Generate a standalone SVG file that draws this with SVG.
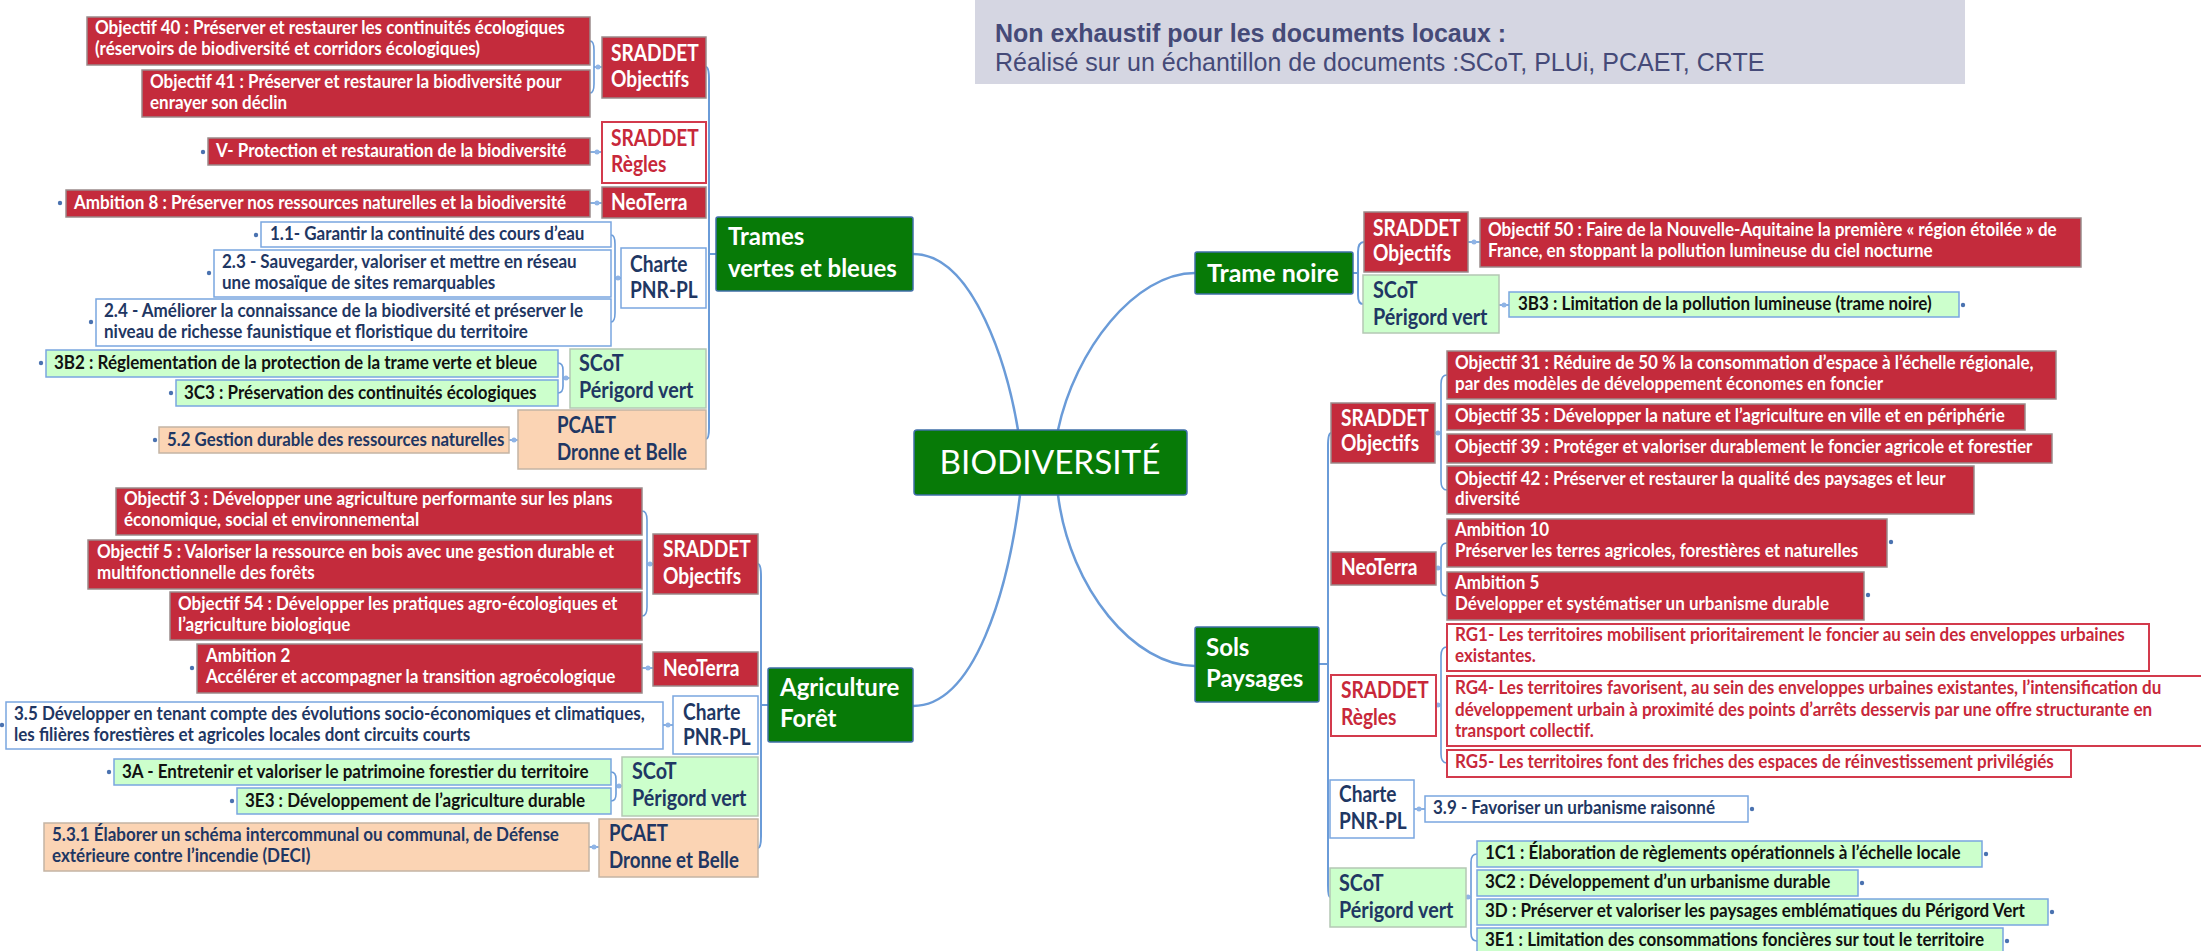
<svg xmlns="http://www.w3.org/2000/svg" width="2201" height="951" viewBox="0 0 2201 951">
<style>
rect{stroke-width:1.5}
.r{fill:#c42b3c;stroke:#9a8a8a}
.w{fill:#fff;stroke:#7aa6e0}
.wr{fill:#fff;stroke:#d33a4c;stroke-width:2}
.lg{fill:#ccffcc;stroke:#7aa6e0}
.lgc{fill:#ccffcc;stroke:#b4c8b4}
.pc{fill:#fbd4b4;stroke:#c4b4a4}
.gn{fill:#077a07;stroke:#3f6fa8}
text{font-family:Lato,"Noto Sans",sans-serif;font-weight:700}
text.lgd{font-family:"Liberation Sans",Arial,sans-serif;font-size:25px;fill:#454a78}
text.lgd.n{font-weight:400}
text.bio{font-weight:400;font-size:32px}
.s{font-size:18px}
.c{font-size:22px}
.m{font-size:25px}
.tw{fill:#fff}
.tn{fill:#1f3763}
.tk{fill:#111}
.tr{fill:#c8283a}
.lk path{fill:none;stroke:#6a9bd8;stroke-width:1.6}
.lk .main{stroke-width:2.5}
.lk .tr2{stroke-width:2}
.dot{fill:#4a72b0}
.jn{fill:#8fb4e6}
</style>

<g id="legend">
<rect x="975" y="-2" width="990" height="86" fill="#d5d6e2" stroke="none"/>
<text class="lgd" x="995" y="42">Non exhaustif pour les documents locaux :</text>
<text class="lgd n" x="995" y="71">Réalisé sur un échantillon de documents :SCoT, PLUi, PCAET, CRTE</text>
</g>

<g class="lk" id="connectors">
<path class="main" d="M913,254 C975,254 1008,370 1018,430"/>
<path class="main" d="M1195,273 C1135,273 1075,350 1058,430"/>
<path class="main" d="M913,706 C975,706 1008,590 1020,495"/>
<path class="main" d="M1195,666 C1135,666 1070,590 1058,495"/>
<path class="tr2" d="M706,67 Q709,67 709,80 L709,428 Q709,439 706,439 M709,254 L716,254"/>
<path class="tr2" d="M758,564 Q761,564 761,577 L761,836 Q761,848 758,848 M761,705 L768,705"/>
<path class="tr2" d="M1331,433 Q1328,433 1328,446 L1328,885 Q1328,897 1330,897 M1319,664 L1328,664"/>
<path class="tr2" d="M1364,242 Q1358,242 1358,252 L1358,295 Q1358,304 1363,304 M1353,273 L1358,273"/>
<path d="M590,41 Q594,41 594,50 L594,84 Q594,93 590,93 M594,67 L602,67"/>
<path d="M590,152 L602,152"/>
<path d="M590,203 L602,203"/>
<path d="M611,235 Q615,235 615,244 L615,313 Q615,322 611,322 M615,278 L621,278"/>
<path d="M558,363 Q563,363 563,370 L563,386 Q563,393 558,393 M563,378 L570,378"/>
<path d="M509,440 L518,440"/>
<path d="M642,511 Q647,511 647,520 L647,607 Q647,616 642,616 M647,564 L653,564"/>
<path d="M642,668 L653,668"/>
<path d="M663,725 L673,725"/>
<path d="M611,772 Q616,772 616,779 L616,794 Q616,801 611,801 M616,786 L622,786"/>
<path d="M589,847 L599,847"/>
<path d="M1468,242 L1480,242"/>
<path d="M1499,305 L1509,305"/>
<path d="M1447,375 Q1441,375 1441,384 L1441,481 Q1441,490 1447,490 M1435,433 L1441,433"/>
<path d="M1447,543 Q1441,543 1441,550 L1441,589 Q1441,596 1447,596 M1436,568 L1441,568"/>
<path d="M1447,647 Q1441,647 1441,656 L1441,754 Q1441,763 1447,763 M1436,705 L1441,705"/>
<path d="M1414,809 L1425,809"/>
<path d="M1477,854 Q1471,854 1471,862 L1471,933 Q1471,941 1477,941 M1466,897 L1471,897"/>
<circle class="jn" cx="598" cy="67" r="2.5"/><circle class="jn" cx="597" cy="152" r="2.5"/><circle class="jn" cx="597" cy="203" r="2.5"/>
<circle class="jn" cx="618" cy="278" r="2.5"/><circle class="jn" cx="566" cy="378" r="2.5"/><circle class="jn" cx="514" cy="440" r="2.5"/>
<circle class="jn" cx="650" cy="564" r="2.5"/><circle class="jn" cx="648" cy="668" r="2.5"/><circle class="jn" cx="668" cy="725" r="2.5"/>
<circle class="jn" cx="619" cy="786" r="2.5"/><circle class="jn" cx="594" cy="847" r="2.5"/>
<circle class="jn" cx="1474" cy="242" r="2.5"/><circle class="jn" cx="1504" cy="305" r="2.5"/>
<circle class="jn" cx="1438" cy="433" r="2.5"/><circle class="jn" cx="1438" cy="568" r="2.5"/><circle class="jn" cx="1438" cy="705" r="2.5"/>
<circle class="jn" cx="1419" cy="809" r="2.5"/><circle class="jn" cx="1468" cy="897" r="2.5"/>
</g>

<g id="dots">
<circle class="dot" cx="203" cy="152" r="2.2"/><circle class="dot" cx="60" cy="203" r="2.2"/>
<circle class="dot" cx="256" cy="235" r="2.2"/><circle class="dot" cx="209" cy="273" r="2.2"/><circle class="dot" cx="91" cy="322" r="2.2"/>
<circle class="dot" cx="41" cy="363" r="2.2"/><circle class="dot" cx="171" cy="393" r="2.2"/><circle class="dot" cx="155" cy="440" r="2.2"/>
<circle class="dot" cx="192" cy="668" r="2.2"/><circle class="dot" cx="2" cy="725" r="2.2"/>
<circle class="dot" cx="109" cy="772" r="2.2"/><circle class="dot" cx="232" cy="801" r="2.2"/>
<circle class="dot" cx="1963" cy="305" r="2.2"/><circle class="dot" cx="1891" cy="542" r="2.2"/><circle class="dot" cx="1868" cy="595" r="2.2"/>
<circle class="dot" cx="1752" cy="809" r="2.2"/><circle class="dot" cx="1986" cy="854" r="2.2"/><circle class="dot" cx="1862" cy="883" r="2.2"/>
<circle class="dot" cx="2052" cy="912" r="2.2"/><circle class="dot" cx="2007" cy="941" r="2.2"/>
</g>

<!-- central -->
<g id="bio"><rect class="gn" x="914" y="430" width="273" height="65" rx="3"/>
<text class="bio tw" transform="translate(1050 474) scale(1.04 1)" text-anchor="middle">BIODIVERSITÉ</text></g>

<!-- Trames vertes et bleues -->
<g id="tvb"><rect class="gn" x="716" y="217" width="197" height="74" rx="2"/>
<text class="m tw" transform="translate(728 245) scale(0.96 1)"><tspan x="0" y="0">Trames</tspan><tspan x="0" y="32">vertes et bleues</tspan></text></g>

<g id="obj40"><rect class="r" x="87" y="17" width="503" height="48"/>
<text class="s tw" transform="translate(95 34) scale(0.945 1)"><tspan x="0" y="0">Objectif 40 : Préserver et restaurer les continuités écologiques</tspan><tspan x="0" y="21">(réservoirs de biodiversité et corridors écologiques)</tspan></text></g>
<g id="obj41"><rect class="r" x="142" y="70" width="448" height="47"/>
<text class="s tw" transform="translate(150 88) scale(0.945 1)"><tspan x="0" y="0">Objectif 41 : Préserver et restaurer la biodiversité pour</tspan><tspan x="0" y="21">enrayer son déclin</tspan></text></g>
<g id="sraddet-obj-tvb"><rect class="r" x="602" y="37" width="104" height="61"/>
<text class="c tw" transform="translate(611 61) scale(0.87 1)"><tspan x="0" y="0">SRADDET</tspan><tspan x="0" y="26">Objectifs</tspan></text></g>

<g id="v-protection"><rect class="r" x="208" y="138" width="382" height="27"/>
<text class="s tw" transform="translate(216 157) scale(0.945 1)">V- Protection et restauration de la biodiversité</text></g>
<g id="sraddet-regles-tvb"><rect class="wr" x="602" y="122" width="104" height="61"/>
<text class="c tr" transform="translate(611 146) scale(0.87 1)"><tspan x="0" y="0">SRADDET</tspan><tspan x="0" y="26">Règles</tspan></text></g>

<g id="amb8"><rect class="r" x="66" y="190" width="524" height="27"/>
<text class="s tw" transform="translate(74 209) scale(0.945 1)">Ambition 8 : Préserver nos ressources naturelles et la biodiversité</text></g>
<g id="neoterra-tvb"><rect class="r" x="602" y="187" width="104" height="31"/>
<text class="c tw" transform="translate(611 210) scale(0.87 1)">NeoTerra</text></g>

<g id="c11"><rect class="w" x="261" y="222" width="350" height="25"/>
<text class="s tn" transform="translate(270 240) scale(0.945 1)">1.1- Garantir la continuité des cours d’eau</text></g>
<g id="c23"><rect class="w" x="214" y="250" width="397" height="47"/>
<text class="s tn" transform="translate(222 268) scale(0.945 1)"><tspan x="0" y="0">2.3 - Sauvegarder, valoriser et mettre en réseau</tspan><tspan x="0" y="21">une mosaïque de sites remarquables</tspan></text></g>
<g id="c24"><rect class="w" x="96" y="299" width="515" height="47"/>
<text class="s tn" transform="translate(104 317) scale(0.945 1)"><tspan x="0" y="0">2.4 - Améliorer la connaissance de la biodiversité et préserver le</tspan><tspan x="0" y="21">niveau de richesse faunistique et floristique du territoire</tspan></text></g>
<g id="charte-tvb"><rect class="w" x="621" y="248" width="85" height="60"/>
<text class="c tn" transform="translate(630 272) scale(0.87 1)"><tspan x="0" y="0">Charte</tspan><tspan x="0" y="26">PNR-PL</tspan></text></g>

<g id="b3b2"><rect class="lg" x="46" y="350" width="512" height="27"/>
<text class="s tk" transform="translate(54 369) scale(0.945 1)">3B2 : Réglementation de la protection de la trame verte et bleue</text></g>
<g id="c3c3"><rect class="lg" x="176" y="380" width="382" height="26"/>
<text class="s tk" transform="translate(184 399) scale(0.945 1)">3C3 : Préservation des continuités écologiques</text></g>
<g id="scot-tvb"><rect class="lgc" x="570" y="349" width="136" height="59"/>
<text class="c tn" transform="translate(579 371) scale(0.9 1)"><tspan x="0" y="0">SCoT</tspan><tspan x="0" y="27">Périgord vert</tspan></text></g>

<g id="g52"><rect class="pc" x="159" y="427" width="350" height="26"/>
<text class="s tn" transform="translate(167 446) scale(0.935 1)">5.2 Gestion durable des ressources naturelles</text></g>
<g id="pcaet-tvb"><rect class="pc" x="518" y="410" width="188" height="59"/>
<text class="c tn" transform="translate(557 433) scale(0.85 1)"><tspan x="0" y="0">PCAET</tspan><tspan x="0" y="27">Dronne et Belle</tspan></text></g>

<!-- Agriculture Forêt -->
<g id="agri"><rect class="gn" x="768" y="668" width="145" height="74" rx="2"/>
<text class="m tw" transform="translate(780 696) scale(0.96 1)"><tspan x="0" y="0">Agriculture</tspan><tspan x="0" y="31">Forêt</tspan></text></g>

<g id="obj3"><rect class="r" x="116" y="488" width="526" height="47"/>
<text class="s tw" transform="translate(124 505) scale(0.945 1)"><tspan x="0" y="0">Objectif 3 : Développer une agriculture performante sur les plans</tspan><tspan x="0" y="21">économique, social et environnemental</tspan></text></g>
<g id="obj5"><rect class="r" x="88" y="540" width="554" height="49"/>
<text class="s tw" transform="translate(97 558) scale(0.945 1)"><tspan x="0" y="0">Objectif 5 : Valoriser la ressource en bois avec une gestion durable et</tspan><tspan x="0" y="21">multifonctionnelle des forêts</tspan></text></g>
<g id="obj54"><rect class="r" x="170" y="592" width="472" height="48"/>
<text class="s tw" transform="translate(178 610) scale(0.945 1)"><tspan x="0" y="0">Objectif 54 : Développer les pratiques agro-écologiques et</tspan><tspan x="0" y="21">l’agriculture biologique</tspan></text></g>
<g id="sraddet-obj-agri"><rect class="r" x="653" y="534" width="105" height="60"/>
<text class="c tw" transform="translate(663 557) scale(0.87 1)"><tspan x="0" y="0">SRADDET</tspan><tspan x="0" y="27">Objectifs</tspan></text></g>

<g id="amb2"><rect class="r" x="197" y="644" width="445" height="49"/>
<text class="s tw" transform="translate(206 662) scale(0.945 1)"><tspan x="0" y="0">Ambition 2</tspan><tspan x="0" y="21">Accélérer et accompagner la transition agroécologique</tspan></text></g>
<g id="neoterra-agri"><rect class="r" x="653" y="652" width="105" height="34"/>
<text class="c tw" transform="translate(663 676) scale(0.87 1)">NeoTerra</text></g>

<g id="c35"><rect class="w" x="6" y="702" width="657" height="47"/>
<text class="s tn" transform="translate(14 720) scale(0.945 1)"><tspan x="0" y="0">3.5 Développer en tenant compte des évolutions socio-économiques et climatiques,</tspan><tspan x="0" y="21">les filières forestières et agricoles locales dont circuits courts</tspan></text></g>
<g id="charte-agri"><rect class="w" x="673" y="696" width="85" height="58"/>
<text class="c tn" transform="translate(683 720) scale(0.87 1)"><tspan x="0" y="0">Charte</tspan><tspan x="0" y="25">PNR-PL</tspan></text></g>

<g id="c3a"><rect class="lg" x="114" y="759" width="497" height="26"/>
<text class="s tk" transform="translate(122 778) scale(0.945 1)">3A - Entretenir et valoriser le patrimoine forestier du territoire</text></g>
<g id="c3e3"><rect class="lg" x="237" y="788" width="374" height="26"/>
<text class="s tk" transform="translate(245 807) scale(0.945 1)">3E3 : Développement de l’agriculture durable</text></g>
<g id="scot-agri"><rect class="lgc" x="622" y="757" width="136" height="59"/>
<text class="c tn" transform="translate(632 779) scale(0.9 1)"><tspan x="0" y="0">SCoT</tspan><tspan x="0" y="27">Périgord vert</tspan></text></g>

<g id="g531"><rect class="pc" x="44" y="823" width="545" height="48"/>
<text class="s tn" transform="translate(52 841) scale(0.945 1)"><tspan x="0" y="0">5.3.1 Élaborer un schéma intercommunal ou communal, de Défense</tspan><tspan x="0" y="21">extérieure contre l’incendie (DECI)</tspan></text></g>
<g id="pcaet-agri"><rect class="pc" x="599" y="819" width="159" height="58"/>
<text class="c tn" transform="translate(609 841) scale(0.85 1)"><tspan x="0" y="0">PCAET</tspan><tspan x="0" y="27">Dronne et Belle</tspan></text></g>

<!-- Trame noire -->
<g id="trame-noire"><rect class="gn" x="1195" y="252" width="158" height="42" rx="2"/>
<text class="m tw" transform="translate(1207 282) scale(1 1)">Trame noire</text></g>
<g id="sraddet-obj-tn"><rect class="r" x="1364" y="212" width="104" height="60"/>
<text class="c tw" transform="translate(1373 236) scale(0.87 1)"><tspan x="0" y="0">SRADDET</tspan><tspan x="0" y="25">Objectifs</tspan></text></g>
<g id="obj50"><rect class="r" x="1480" y="218" width="601" height="49"/>
<text class="s tw" transform="translate(1488 236) scale(0.945 1)"><tspan x="0" y="0">Objectif 50 : Faire de la Nouvelle-Aquitaine la première « région étoilée » de</tspan><tspan x="0" y="21">France, en stoppant la pollution lumineuse du ciel nocturne</tspan></text></g>
<g id="scot-tn"><rect class="lgc" x="1363" y="275" width="136" height="58"/>
<text class="c tn" transform="translate(1373 298) scale(0.9 1)"><tspan x="0" y="0">SCoT</tspan><tspan x="0" y="27">Périgord vert</tspan></text></g>
<g id="b3b3"><rect class="lg" x="1509" y="292" width="450" height="25"/>
<text class="s tk" transform="translate(1518 310) scale(0.945 1)">3B3 : Limitation de la pollution lumineuse (trame noire)</text></g>

<!-- Sols Paysages -->
<g id="sols"><rect class="gn" x="1195" y="627" width="124" height="75" rx="2"/>
<text class="m tw" transform="translate(1206 656) scale(0.96 1)"><tspan x="0" y="0">Sols</tspan><tspan x="0" y="31">Paysages</tspan></text></g>
<g id="sraddet-obj-sols"><rect class="r" x="1331" y="403" width="104" height="60"/>
<text class="c tw" transform="translate(1341 426) scale(0.87 1)"><tspan x="0" y="0">SRADDET</tspan><tspan x="0" y="25">Objectifs</tspan></text></g>
<g id="obj31"><rect class="r" x="1447" y="351" width="609" height="48"/>
<text class="s tw" transform="translate(1455 369) scale(0.945 1)"><tspan x="0" y="0">Objectif 31 : Réduire de 50 % la consommation d’espace à l’échelle régionale,</tspan><tspan x="0" y="21">par des modèles de développement économes en foncier</tspan></text></g>
<g id="obj35"><rect class="r" x="1447" y="404" width="578" height="26"/>
<text class="s tw" transform="translate(1455 422) scale(0.945 1)">Objectif 35 : Développer la nature et l’agriculture en ville et en périphérie</text></g>
<g id="obj39"><rect class="r" x="1447" y="434" width="605" height="29"/>
<text class="s tw" transform="translate(1455 453) scale(0.945 1)">Objectif 39 : Protéger et valoriser durablement le foncier agricole et forestier</text></g>
<g id="obj42"><rect class="r" x="1447" y="466" width="527" height="48"/>
<text class="s tw" transform="translate(1455 485) scale(0.945 1)"><tspan x="0" y="0">Objectif 42 : Préserver et restaurer la qualité des paysages et leur</tspan><tspan x="0" y="20">diversité</tspan></text></g>

<g id="neoterra-sols"><rect class="r" x="1331" y="552" width="105" height="33"/>
<text class="c tw" transform="translate(1341 575) scale(0.87 1)">NeoTerra</text></g>
<g id="amb10"><rect class="r" x="1447" y="519" width="440" height="48"/>
<text class="s tw" transform="translate(1455 536) scale(0.945 1)"><tspan x="0" y="0">Ambition 10</tspan><tspan x="0" y="21">Préserver les terres agricoles, forestières et naturelles</tspan></text></g>
<g id="amb5"><rect class="r" x="1447" y="572" width="417" height="48"/>
<text class="s tw" transform="translate(1455 589) scale(0.945 1)"><tspan x="0" y="0">Ambition 5</tspan><tspan x="0" y="21">Développer et systématiser un urbanisme durable</tspan></text></g>

<g id="sraddet-regles-sols"><rect class="wr" x="1331" y="675" width="105" height="61"/>
<text class="c tr" transform="translate(1341 698) scale(0.87 1)"><tspan x="0" y="0">SRADDET</tspan><tspan x="0" y="27">Règles</tspan></text></g>
<g id="rg1"><rect class="wr" x="1447" y="624" width="702" height="47"/>
<text class="s tr" transform="translate(1455 641) scale(0.945 1)"><tspan x="0" y="0">RG1- Les territoires mobilisent prioritairement le foncier au sein des enveloppes urbaines</tspan><tspan x="0" y="21">existantes.</tspan></text></g>
<g id="rg4"><rect class="wr" x="1447" y="676" width="756" height="70"/>
<text class="s tr" transform="translate(1455 694) scale(0.945 1)"><tspan x="0" y="0">RG4- Les territoires favorisent, au sein des enveloppes urbaines existantes, l’intensification du</tspan><tspan x="0" y="22">développement urbain à proximité des points d’arrêts desservis par une offre structurante en</tspan><tspan x="0" y="43">transport collectif.</tspan></text></g>
<g id="rg5"><rect class="wr" x="1447" y="750" width="624" height="27"/>
<text class="s tr" transform="translate(1455 768) scale(0.945 1)">RG5- Les territoires font des friches des espaces de réinvestissement privilégiés</text></g>

<g id="charte-sols"><rect class="w" x="1330" y="780" width="84" height="58"/>
<text class="c tn" transform="translate(1339 802) scale(0.87 1)"><tspan x="0" y="0">Charte</tspan><tspan x="0" y="27">PNR-PL</tspan></text></g>
<g id="c39"><rect class="w" x="1425" y="796" width="323" height="26"/>
<text class="s tn" transform="translate(1433 814) scale(0.945 1)">3.9 - Favoriser un urbanisme raisonné</text></g>

<g id="scot-sols"><rect class="lgc" x="1330" y="868" width="136" height="59"/>
<text class="c tn" transform="translate(1339 891) scale(0.9 1)"><tspan x="0" y="0">SCoT</tspan><tspan x="0" y="27">Périgord vert</tspan></text></g>
<g id="c1c1"><rect class="lg" x="1477" y="841" width="505" height="26"/>
<text class="s tk" transform="translate(1485 859) scale(0.945 1)">1C1 : Élaboration de règlements opérationnels à l’échelle locale</text></g>
<g id="c3c2"><rect class="lg" x="1477" y="870" width="381" height="26"/>
<text class="s tk" transform="translate(1485 888) scale(0.945 1)">3C2 : Développement d’un urbanisme durable</text></g>
<g id="c3d"><rect class="lg" x="1477" y="899" width="571" height="26"/>
<text class="s tk" transform="translate(1485 917) scale(0.945 1)">3D : Préserver et valoriser les paysages emblématiques du Périgord Vert</text></g>
<g id="c3e1"><rect class="lg" x="1477" y="928" width="526" height="26"/>
<text class="s tk" transform="translate(1485 946) scale(0.945 1)">3E1 : Limitation des consommations foncières sur tout le territoire</text></g>
</svg>
